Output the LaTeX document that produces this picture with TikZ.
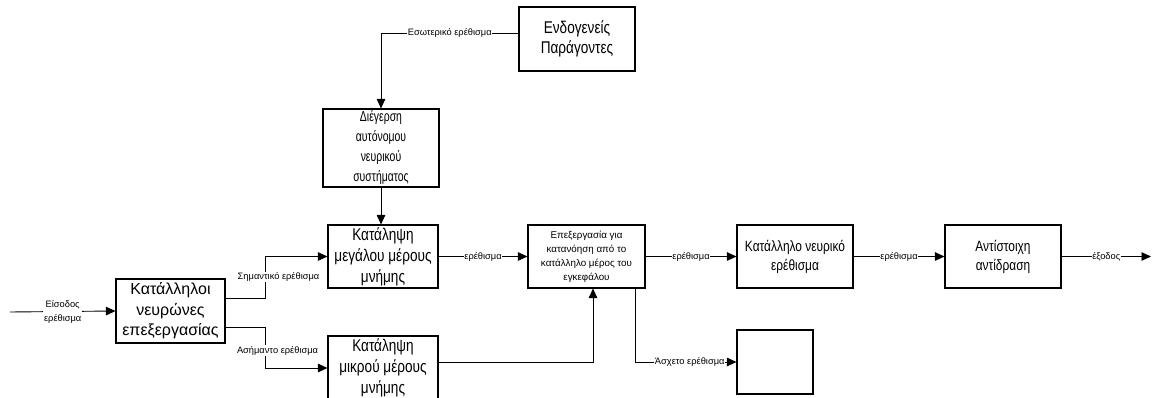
\documentclass[tikz,border=0pt]{standalone}
\usepackage{fontspec}
\setmainfont{Liberation Sans}
\newfontfamily\nar[FakeStretch=0.8]{Liberation Sans}
\newfontfamily\narr[FakeStretch=0.72]{Liberation Sans}
\usetikzlibrary{arrows.meta}
\begin{document}
\begin{tikzpicture}[x=1pt,y=-1pt,
  box/.style={draw, line width=1.1pt, rectangle, inner sep=0pt, align=center},
  conn/.style={line width=0.9pt},
  arr/.style={conn, -{Triangle[length=9.5pt,width=8.5pt]}},
  lbl/.style={fill=white, inner sep=0.6pt, font=\fontsize{9.3}{10}\selectfont}]
\clip (0,0) rectangle (1152,398);
\fill[white] (0,0) rectangle (1152,398);
\node[box, minimum width=116pt, minimum height=64pt, font=\nar\fontsize{17}{20}\selectfont] (endo) at (577,39) {Ενδογενείς\\Παράγοντες};
\node[box, minimum width=116pt, minimum height=78pt, font=\narr\fontsize{14.5}{20}\selectfont] (dieg) at (381,148) {Διέγερση\\αυτόνομου\\νευρικού\\συστήματος};
\node[box, minimum width=110pt, minimum height=63pt, font=\nar\fontsize{17}{21}\selectfont] (megal) at (383,256.5) {Κατάληψη\\μεγάλου μέρους\\μνήμης};
\node[box, minimum width=110pt, minimum height=64pt, font=\nar\fontsize{17}{21}\selectfont] (mikr) at (383,368) {Κατάληψη\\μικρού μέρους\\μνήμης};
\node[box, minimum width=117pt, minimum height=63pt, font=\fontsize{9.8}{14}\selectfont] (epex) at (586.5,256.5) {Επεξεργασία για\\κατανόηση από το\\κατάλληλο μέρος του\\εγκεφάλου};
\node[box, minimum width=116pt, minimum height=63pt, font=\nar\fontsize{14.9}{19}\selectfont] (katnev) at (795,256.5) {Κατάλληλο νευρικό\\ερέθισμα};
\node[box, minimum width=116pt, minimum height=63pt, font=\nar\fontsize{14.9}{19}\selectfont] (antis) at (1003,256.5) {Αντίστοιχη\\αντίδραση};
\node[box, minimum width=109pt, minimum height=64pt, font=\fontsize{16}{20.5}\selectfont] (katal) at (170.5,311) {Κατάλληλοι\\νευρώνες\\επεξεργασίας};
\node[box, minimum width=76pt, minimum height=64pt] (empty) at (775,362) {};
\coordinate (in) at (10,312);
\coordinate (out) at (1151,256.5);
\draw[arr] ([yshift=6pt]endo.west) -| (dieg.north) node[lbl, pos=0.25]{Εσωτερικό ερέθισμα};
\draw[arr] (dieg.south) -- (dieg.south |- megal.north);
\draw[arr] (in) -- (katal.west) node[lbl, midway, align=center, font=\fontsize{9.3}{14}\selectfont]{Είσοδος\\ερέθισμα};
\draw[arr] ([yshift=13pt]katal.east) -- ++(40,0) |- (megal.west) node[lbl, pos=0.25, xshift=13pt]{Σημαντικό ερέθισμα};
\draw[arr] ([yshift=-16pt]katal.east) -- ++(40,0) |- (mikr.west) node[lbl, pos=0.25, xshift=12pt, yshift=-3pt]{Ασήμαντο ερέθισμα};
\draw[arr] (megal) -- (epex) node[lbl, midway]{ερέθισμα};
\draw[arr] ([yshift=6pt]mikr.east) -| ([xshift=6.5pt]epex.south);
\draw[arr] ([xshift=48.5pt]epex.south) |- (empty.west) node[lbl, pos=0.75, xshift=4pt]{Άσχετο ερέθισμα};
\draw[arr] (epex) -- (katnev) node[lbl, midway]{ερέθισμα};
\draw[arr] (katnev) -- (antis) node[lbl, midway]{ερέθισμα};
\draw[arr] (antis) -- (out) node[lbl, midway]{έξοδος};
\end{tikzpicture}
\end{document}
